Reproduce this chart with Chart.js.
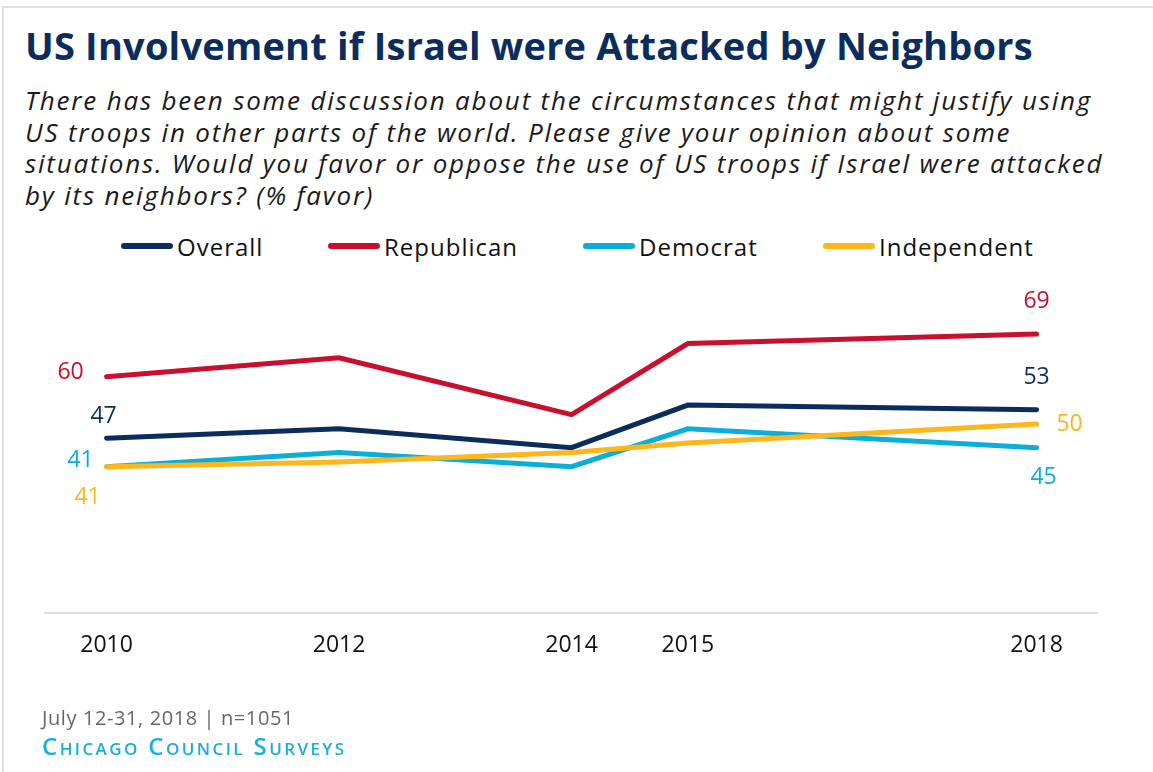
<!DOCTYPE html>
<html>
<head>
<meta charset="utf-8">
<script src="https://cdn.jsdelivr.net/npm/chart.js@4.4.1/dist/chart.umd.min.js"></script>
<style>
  html, body { margin: 0; padding: 0; background: #fff; }
  body { width: 1153px; height: 772px; position: relative; overflow: hidden; font-family: "Open Sans", sans-serif; }
  .frame { position: absolute; left: 2px; top: 6px; right: 0; bottom: 0; border-top: 2px solid #e0e0e0; border-left: 2px solid #e0e0e0; }
  h1 { position: absolute; left: 25px; top: 19px; margin: 0; font-family: "Open Sans", sans-serif; font-weight: 700; font-size: 38px; letter-spacing: 0.2px; color: #0b2d5e; white-space: nowrap; }
  .question { position: absolute; left: 25px; top: 85px; margin: 0; font-style: italic; font-size: 26px; letter-spacing: 1.8px; line-height: 31.7px; color: #1a1a1a; white-space: nowrap; }
  #legend { position: absolute; left: 0; top: 230px; width: 1153px; height: 32px; }
  .item { position: absolute; top: 0; height: 32px; display: flex; align-items: center; font-size: 24px; letter-spacing: 1px; color: #111; }
  .item .swatch { width: 52px; height: 6px; border-radius: 3px; margin-right: 4px; }
  canvas { position: absolute; left: 0; top: 0; }
  .note { position: absolute; left: 42px; top: 704px; font-size: 20px; letter-spacing: 0.6px; color: #666; }
  .source { position: absolute; left: 42px; top: 729px; font-size: 24px; font-weight: 600; letter-spacing: 2.4px; color: #1aaed8; white-space: nowrap; }
  .source small { font-size: 17px; }
</style>
</head>
<body>
<div class="frame"></div>
<h1>US Involvement if Israel were Attacked by Neighbors</h1>
<div class="question">There has been some discussion about the circumstances that might justify using<br>US troops in other parts of the world. Please give your opinion about some<br>situations. Would you favor or oppose the use of US troops if Israel were attacked<br>by its neighbors? (% favor)</div>
<div id="legend"></div>
<canvas id="chart" width="1153" height="772"></canvas>
<div class="note">July 12-31, 2018 | n=1051</div>
<div class="source">C<small>HICAGO</small> C<small>OUNCIL</small> S<small>URVEYS</small></div>

<script>
const years = [2010, 2012, 2014, 2015, 2018];

const seriesNames = ['Overall', 'Republican', 'Democrat', 'Independent'];
const overall = [47, 49, 45, 54, 53];
const republican = [60, 64, 52, 67, 69];
const democrat = [41, 44, 41, 49, 45];
const independent = [41, 42, 44, 46, 50];

const colors = ['#0b2d5e', '#c8102e', '#0aafd9', '#fdb71b'];
const legendLeft = [121, 328, 583, 823];

// label offsets for the first and last point of each line [dx, dy]
const firstOffsets = [[-3, -22], [-36, -4], [-26, -6], [-19, 31]];
const lastOffsets = [[0, -32], [0, -33], [7, 30], [33, 0]];

const values = [overall, republican, democrat, independent];

// legend
const legend = document.getElementById('legend');
seriesNames.forEach((name, i) => {
  const el = document.createElement('div');
  el.className = 'item';
  el.style.left = legendLeft[i] + 'px';
  el.innerHTML = '<span class="swatch" style="background:' + colors[i] + '"></span>' + name;
  legend.appendChild(el);
});

const endLabels = {
  id: 'endLabels',
  afterDatasetsDraw(chart) {
    const ctx = chart.ctx;
    ctx.save();
    ctx.font = '23px "Open Sans"';
    ctx.textAlign = 'center';
    ctx.textBaseline = 'middle';
    chart.data.datasets.forEach((ds, i) => {
      const pts = chart.getDatasetMeta(i).data;
      const first = pts[0], last = pts[pts.length - 1];
      ctx.fillStyle = colors[i];
      ctx.fillText(ds.data[0].y, first.x + firstOffsets[i][0], first.y + firstOffsets[i][1]);
      ctx.fillText(ds.data[pts.length - 1].y, last.x + lastOffsets[i][0], last.y + lastOffsets[i][1]);
    });
    ctx.restore();
  }
};

document.fonts.ready.then(() => {
  Chart.defaults.font.family = '"Open Sans", sans-serif';
  const ctx = document.getElementById('chart').getContext('2d');
  new Chart(ctx, {
    type: 'line',
    data: {
      datasets: seriesNames.map((name, i) => ({
        label: name,
        data: years.map((y, j) => ({ x: y, y: values[i][j] })),
        borderColor: colors[i],
        borderWidth: 5,
        borderCapStyle: 'round',
        pointRadius: 0,
        tension: 0,
        fill: false,
        order: seriesNames.length - i, // later series on top
      })),
    },
    options: {
      responsive: false,
      animation: false,
      layout: { padding: { left: 45, right: 56, top: 282, bottom: 95 } },
      plugins: { legend: { display: false }, tooltip: { enabled: false } },
      scales: {
        x: {
          type: 'linear',
          min: 2009.47,
          max: 2018.52,
          afterBuildTicks: (scale) => { scale.ticks = years.map(v => ({ value: v })); },
          grid: { display: false, drawTicks: false },
          border: { display: true, color: '#dcdcdc', width: 2 },
          ticks: {
            padding: 18,
            color: '#111',
            font: { size: 23 },
            maxRotation: 0,
            autoSkip: false,
            callback: (v) => String(v),
          },
        },
        y: { display: false, min: 10, max: 80 },
      },
    },
    plugins: [endLabels],
  });
});
</script>
</body>
</html>
